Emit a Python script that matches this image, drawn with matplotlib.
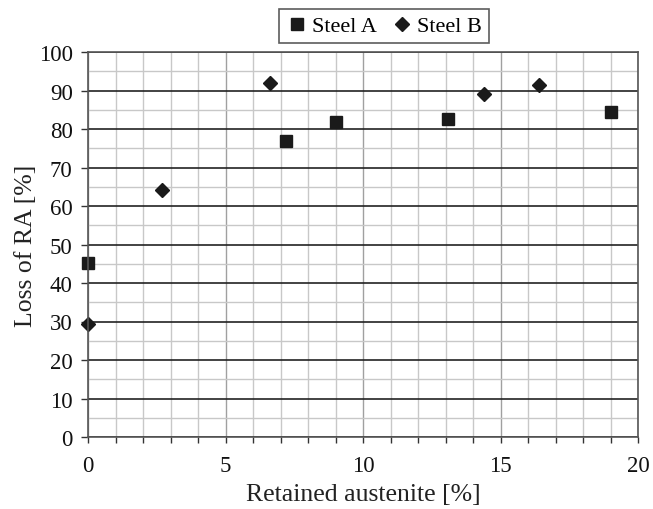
import matplotlib.pyplot as plt
from matplotlib.ticker import MultipleLocator

plt.rcParams['font.family'] = ['Liberation Serif', 'DejaVu Serif']

steel_a_x = [0.0, 7.2, 9.0, 13.1, 19.0]
steel_a_y = [45.3, 77.0, 81.7, 82.7, 84.5]
steel_b_x = [0.0, 2.7, 6.6, 14.4, 16.4]
steel_b_y = [29.3, 64.2, 92.0, 89.2, 91.5]

fig = plt.figure(figsize=(6.53, 5.10), dpi=100)
ax = fig.add_axes([88 / 653, 72 / 510, 550 / 653, 385 / 510])

ax.set_xlim(0, 20)
ax.set_ylim(0, 100)
ax.xaxis.set_major_locator(MultipleLocator(5))
ax.xaxis.set_minor_locator(MultipleLocator(1))
ax.yaxis.set_major_locator(MultipleLocator(10))
ax.yaxis.set_minor_locator(MultipleLocator(5))
ax.yaxis.set_minor_formatter(plt.NullFormatter())

# grid: light every 1 / 5, darker at the majors
ax.grid(which='minor', axis='x', color='#c8c8c8', lw=1.0)
ax.grid(which='major', axis='x', color='#a0a0a0', lw=1.0)
ax.grid(which='minor', axis='y', color='#c8c8c8', lw=1.0)
ax.grid(which='major', axis='y', color='#222222', lw=1.2)
ax.set_axisbelow(True)

for s in ax.spines.values():
    s.set_color('#555555')
    s.set_linewidth(1.2)

ax.tick_params(which='both', direction='out', colors='#333333', labelcolor='#111111',
               labelsize=16.5, length=4, width=1)
ax.tick_params(axis='y', which='major', length=5, pad=6)
ax.tick_params(axis='y', which='minor', length=0)
ax.tick_params(axis='x', which='both', length=4, pad=9)

ax.plot(steel_a_x, steel_a_y, 's', color='#1a1a1a', ms=8, label='Steel A', clip_on=False)
ax.plot(steel_b_x, steel_b_y, 'D', color='#1a1a1a', ms=7, label='Steel B', clip_on=False)

ax.set_xlabel('Retained austenite [%]', fontsize=18.5, color='#222222', labelpad=5)
ax.set_ylabel('Loss of RA [%]', fontsize=18.5, color='#222222', labelpad=1)

leg = fig.legend(loc='center', bbox_to_anchor=(384 / 653, 1 - 27 / 510), ncol=2,
                 fontsize=16, frameon=True, fancybox=False, edgecolor='#333333',
                 handletextpad=0.2, columnspacing=0.6, handlelength=1.0,
                 borderpad=0.3)
leg.get_frame().set_linewidth(1.2)

fig.savefig('out.png', dpi=100)
